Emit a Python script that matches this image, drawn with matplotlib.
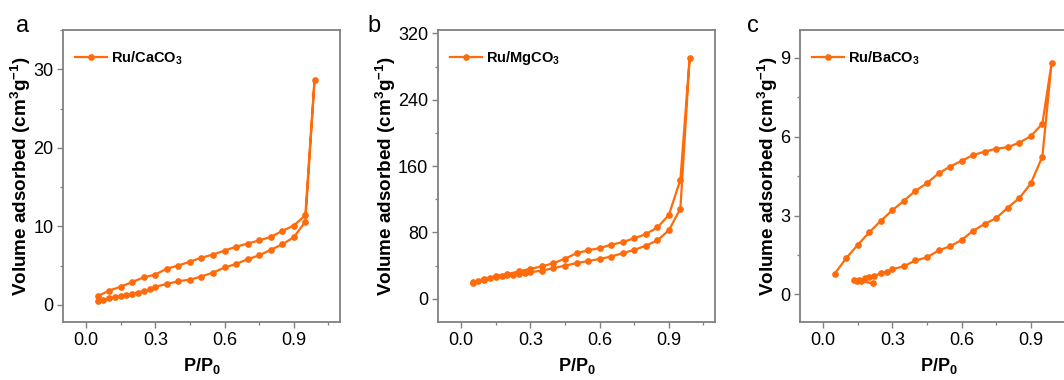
import matplotlib.pyplot as plt
from matplotlib.ticker import MultipleLocator

plt.rcParams['font.family'] = ['Liberation Sans', 'DejaVu Sans']
plt.rcParams['mathtext.fontset'] = 'custom'
plt.rcParams['mathtext.rm'] = 'Liberation Sans'
plt.rcParams['mathtext.bf'] = 'Liberation Sans:bold'

# Ru/CaCO3 (panel a)
ca_ads_p = [0.05, 0.075, 0.1, 0.125, 0.15, 0.175, 0.2, 0.225, 0.25, 0.275, 0.3,
            0.35, 0.4, 0.45, 0.5, 0.55, 0.6, 0.65, 0.7, 0.75, 0.8, 0.85, 0.9, 0.95, 0.99]
ca_ads_v = [0.45, 0.65, 0.8, 0.95, 1.1, 1.2, 1.35, 1.55, 1.75, 1.95, 2.3,
            2.65, 3.0, 3.2, 3.6, 4.1, 4.75, 5.2, 5.8, 6.3, 7.0, 7.7, 8.6, 10.6, 28.7]
ca_des_p = [0.95, 0.9, 0.85, 0.8, 0.75, 0.7, 0.65, 0.6, 0.55, 0.5,
            0.45, 0.4, 0.35, 0.3, 0.25, 0.2, 0.15, 0.1, 0.05]
ca_des_v = [11.4, 10.1, 9.4, 8.65, 8.2, 7.8, 7.4, 6.9, 6.4, 6.0,
            5.5, 5.0, 4.6, 3.85, 3.5, 2.9, 2.3, 1.8, 1.1]

# Ru/MgCO3 (panel b)
mg_ads_p = [0.05, 0.075, 0.1, 0.125, 0.15, 0.175, 0.2, 0.225, 0.25, 0.275, 0.3,
            0.35, 0.4, 0.45, 0.5, 0.55, 0.6, 0.65, 0.7, 0.75, 0.8, 0.85, 0.9, 0.95, 0.99]
mg_ads_v = [19, 21, 23, 25, 26.5, 27.5, 28.5, 29.3, 30, 31, 32,
            34, 37, 40, 43, 45.5, 48, 51, 55, 59, 64, 70.5, 82.5, 108.7, 290]
mg_des_p = [0.95, 0.9, 0.85, 0.8, 0.75, 0.7, 0.65, 0.6, 0.55, 0.5,
            0.45, 0.4, 0.35, 0.3, 0.25, 0.2, 0.15, 0.1, 0.05]
mg_des_v = [143.7, 101, 86, 78, 73, 68.4, 65.2, 61.2, 58.4, 55,
            48.3, 43, 39, 36.2, 33, 29.8, 27.4, 24.2, 19.7]

# Ru/BaCO3 (panel c)
ba_ads_p = [0.215, 0.135, 0.145, 0.155, 0.165, 0.18, 0.2, 0.22, 0.25, 0.275, 0.3,
            0.35, 0.4, 0.45, 0.5, 0.55, 0.6, 0.65, 0.7, 0.75, 0.8, 0.85, 0.9, 0.95, 0.99]
ba_ads_v = [0.42, 0.55, 0.5, 0.55, 0.5, 0.62, 0.66, 0.7, 0.8, 0.87, 0.96,
            1.07, 1.29, 1.41, 1.67, 1.83, 2.07, 2.42, 2.68, 2.9, 3.3, 3.66, 4.22, 5.24, 8.8]
ba_des_p = [0.95, 0.9, 0.85, 0.8, 0.75, 0.7, 0.65, 0.6, 0.55, 0.5,
            0.45, 0.4, 0.35, 0.3, 0.25, 0.2, 0.15, 0.1, 0.05]
ba_des_v = [6.49, 6.02, 5.77, 5.6, 5.54, 5.43, 5.3, 5.08, 4.86, 4.6,
            4.23, 3.94, 3.56, 3.2, 2.8, 2.36, 1.88, 1.38, 0.78]

panels = [
    ("a", "Ru/CaCO$_\\mathbf{3}$", ca_ads_p + ca_des_p, ca_ads_v + ca_des_v,
     (-2.2, 35), 10, 5),
    ("b", "Ru/MgCO$_\\mathbf{3}$", mg_ads_p + mg_des_p, mg_ads_v + mg_des_v,
     (-28, 324), 80, 40),
    ("c", "Ru/BaCO$_\\mathbf{3}$", ba_ads_p + ba_des_p, ba_ads_v + ba_des_v,
     (-1.05, 10.05), 3, 1.5),
]
lefts = [0.0592, 0.4117, 0.7519]
tag_x = [23, 374, 753]  # pixels

color = "#FF6A0A"
spine_col = "#808080"

fig = plt.figure(figsize=(10.64, 3.8), dpi=100)

for left, tx, (tag, name, px, vy, ylim, major, minor) in zip(lefts, tag_x, panels):
    ax = fig.add_axes([left, 0.1526, 0.2603, 0.768])
    ax.plot(px, vy, color=color, lw=1.6, marker="o", ms=3.8, label=name)
    ax.set_xlim(-0.1, 1.1)
    ax.set_ylim(*ylim)
    ax.xaxis.set_minor_locator(MultipleLocator(0.15))
    ax.yaxis.set_major_locator(MultipleLocator(major))
    ax.yaxis.set_minor_locator(MultipleLocator(minor))
    ax.set_xticks([0.0, 0.3, 0.6, 0.9])
    ax.set_xticklabels(["0.0", "0.3", "0.6", "0.9"])
    for s in ax.spines.values():
        s.set_color(spine_col)
        s.set_linewidth(1.3)
    ax.tick_params(which="major", direction="out", length=4, width=1.0,
                   color=spine_col, labelsize=13, pad=3)
    ax.tick_params(which="minor", direction="out", length=2.5, width=0.9,
                   color=spine_col)
    ax.set_xlabel("P/P$_\\mathbf{0}$", fontsize=13, fontweight="bold", labelpad=5)
    ax.set_ylabel("Volume adsorbed (cm$^\\mathbf{3}$g$^\\mathbf{-1}$)",
                  fontsize=13.6, fontweight="bold", labelpad=0)
    ax.legend(loc="center left", bbox_to_anchor=(0.0, 0.905), frameon=False,
              prop={"weight": "bold", "size": 10.5},
              handlelength=2.2, borderaxespad=0.4, handletextpad=0.3)
    fig.text(tx / 1064, 1 - 26 / 380, tag, fontsize=17, ha="center", va="center")

fig.savefig("out.png", dpi=100)
